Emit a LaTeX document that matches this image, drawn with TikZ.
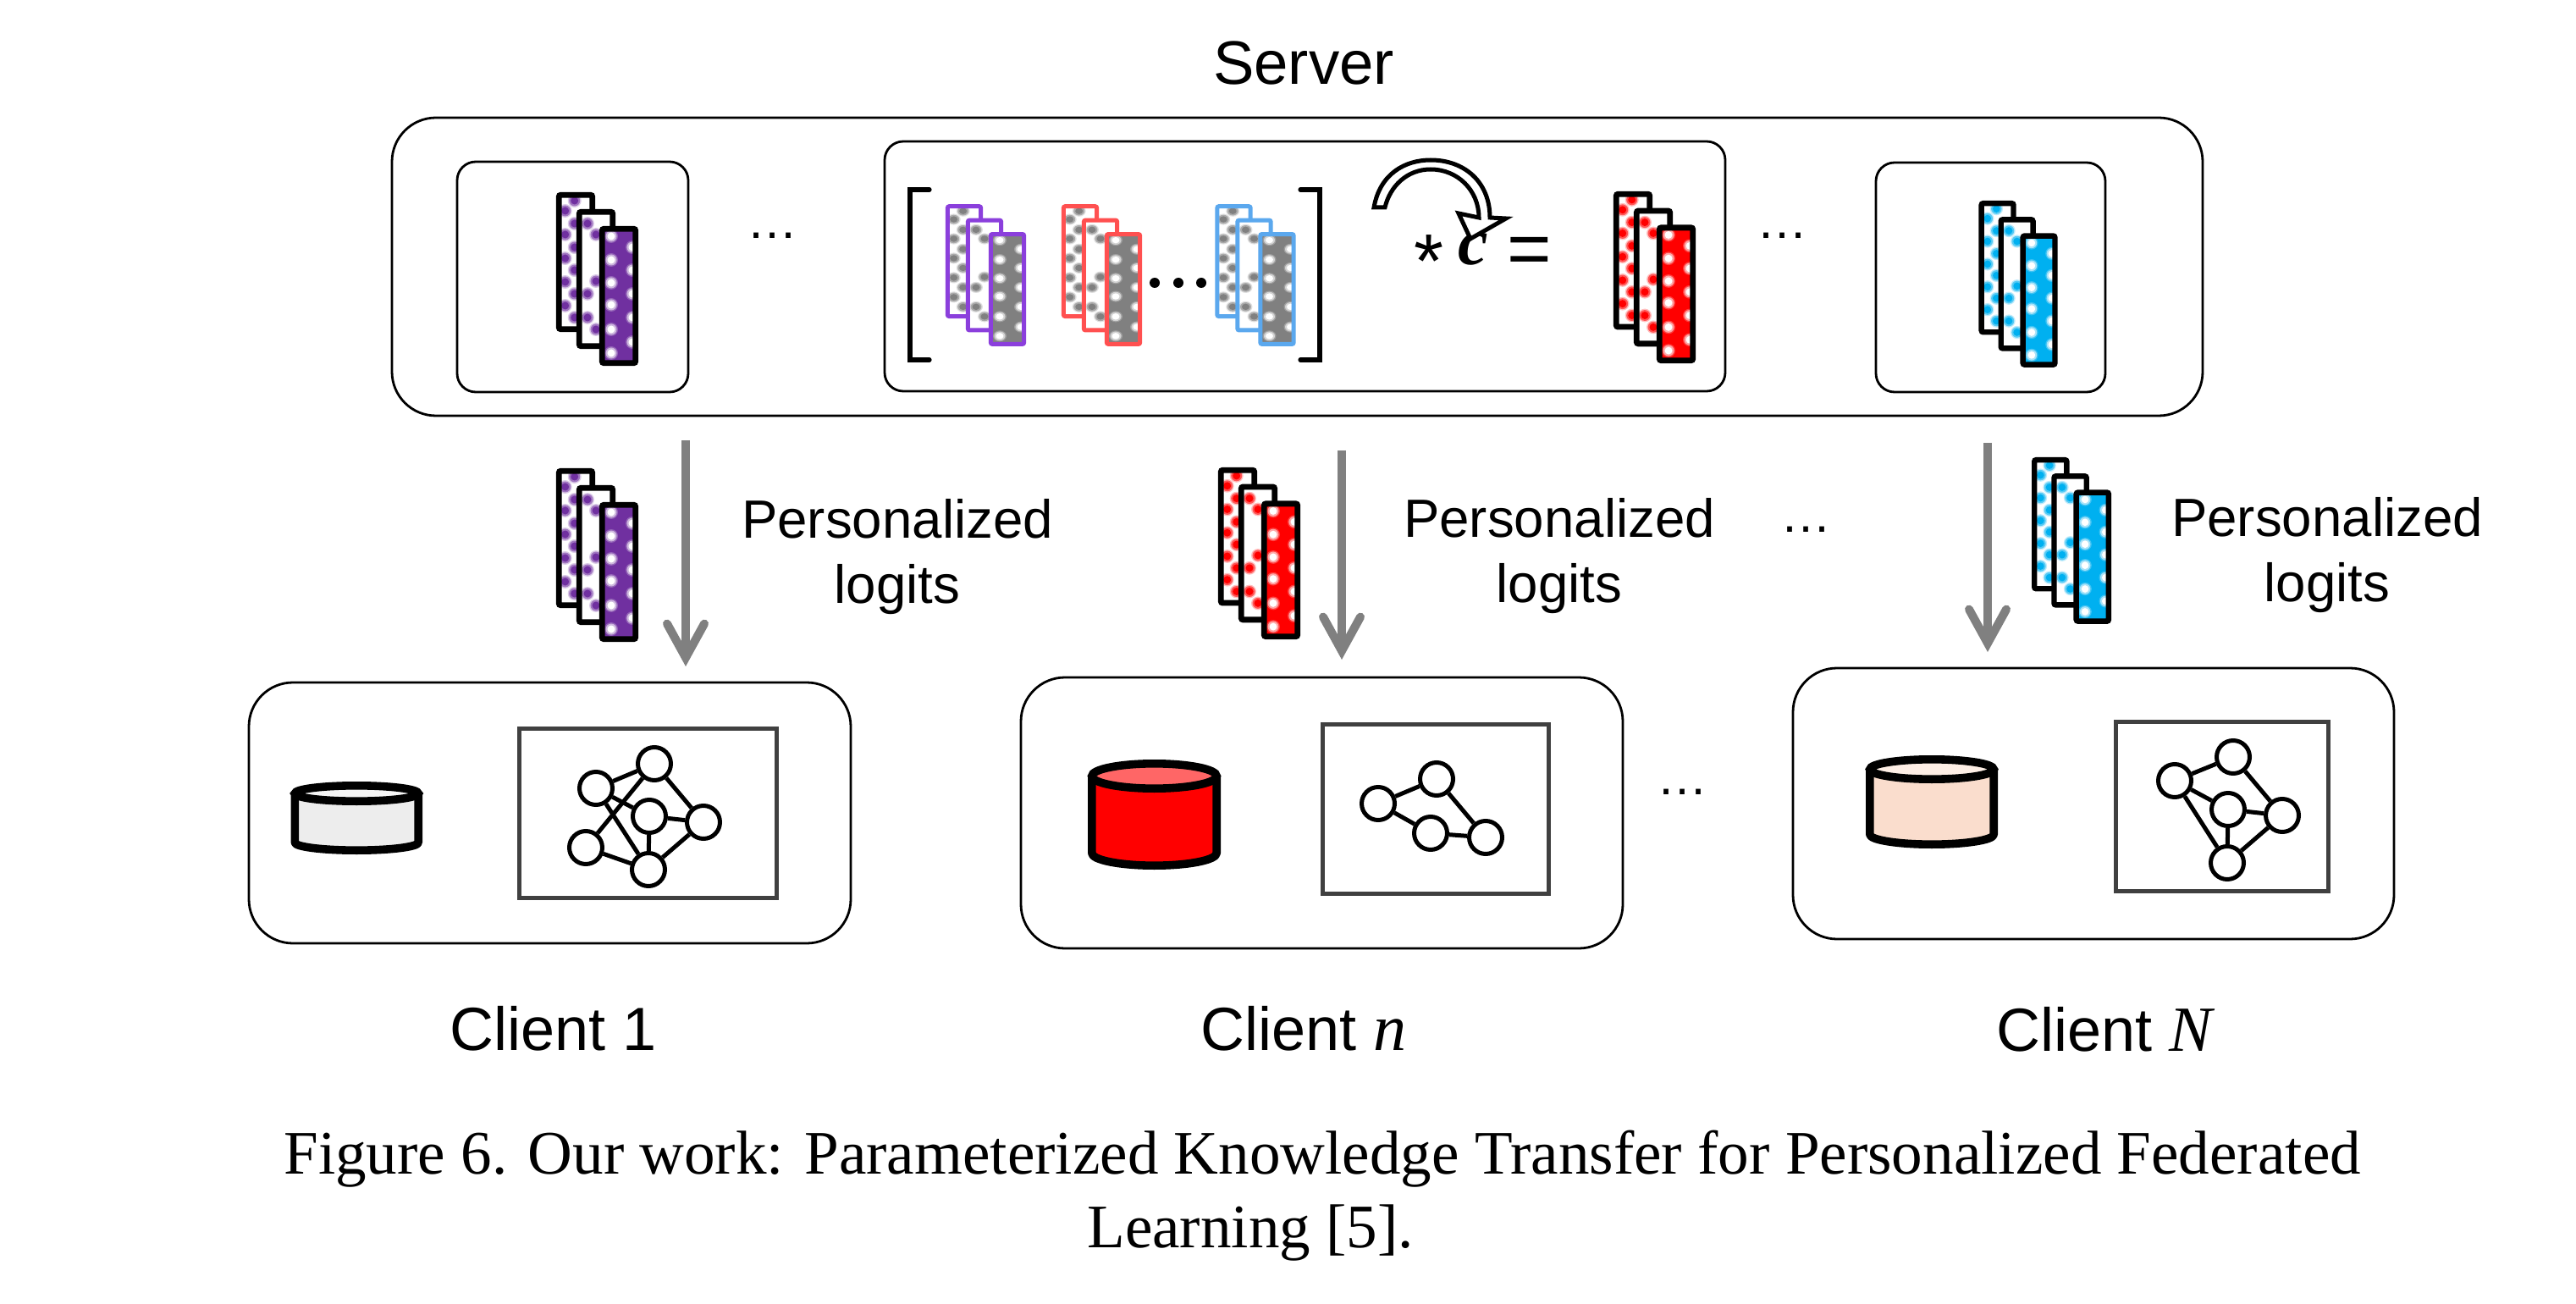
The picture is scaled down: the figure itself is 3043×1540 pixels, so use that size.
\documentclass[tikz,border=0pt]{standalone}
\usepackage{fontspec}
\setmainfont{Liberation Sans}
\newfontfamily\capfont{Liberation Serif}
\usetikzlibrary{arrows.meta}
\definecolor{darkpurple}{HTML}{7030A0}
\definecolor{lightpurple}{HTML}{8B3FDC}
\definecolor{lightred}{HTML}{FF5050}
\definecolor{lightblue}{HTML}{5BA8EE}
\definecolor{skyblue}{HTML}{00B0F0}
\definecolor{midgray}{HTML}{808080}
\definecolor{boxgray}{HTML}{404040}
\definecolor{peach}{HTML}{FADDCD}
\definecolor{peachtop}{HTML}{FDEEE5}
\definecolor{redtop}{HTML}{FF6666}
\definecolor{graybody}{HTML}{EDEDED}
\definecolor{graytop}{HTML}{F5F5F5}
\tikzset{
  roundbox/.style={draw=black,line width=1.4pt,rounded corners=11pt,inner sep=0pt,fill=white},
  bigbox/.style={roundbox,rounded corners=26pt},
  modelbox/.style={draw=boxgray,line width=2.5pt,inner sep=0pt,minimum height=100pt},
  unit/.style={circle,draw=black,fill=white,line width=2.5pt,inner sep=0pt,minimum size=19.5pt},
  link/.style={draw=black,line width=2.5pt},
  flow/.style={draw=midgray,line width=5pt,-{Straight Barb[length=20pt,width=22pt,line width=5pt,line cap=round]}},
  label/.style={inner sep=0pt,anchor=base,font=\fontsize{31.8pt}{36pt}\selectfont},
  clientlabel/.style={inner sep=0pt,anchor=base west,font=\fontsize{36pt}{40pt}\selectfont},
  gaplabel/.style={inner sep=0pt,anchor=base,font=\fontsize{30pt}{34pt}\selectfont},
  caption/.style={inner sep=0pt,anchor=base west,font=\capfont\fontsize{36.55pt}{42pt}\selectfont},
}
% soft checker dot: x y colour
\newcommand{\softdot}[3]{%
  \fill[#3,opacity=.25] (#1,#2) circle (8);
  \fill[#3,opacity=.55] (#1,#2) circle (6.5);
  \fill[#3] (#1,#2) circle (4.5);}
% x y xscale yscale linewidth border dotcolour
\newcommand{\stackicon}[7]{%
\begin{scope}[shift={(#1,#2)},xscale=#3,yscale=#4,line width=#5,rounded corners=1pt]
  \fill[white] (3.3,3.3) rectangle (42.7,161.7);
  \begin{scope}
    \clip (3.3,3.3) rectangle (42.7,161.7);
    \foreach \yy in {22,50,78,106,134} {\softdot{10.7}{\yy}{#7}}
    \foreach \yy in {10,37,65,92,120,148} {\softdot{21.7}{\yy}{#7}}
  \end{scope}
  \draw[#6] (3.3,3.3) rectangle (42.7,161.7);
  \fill[white] (27.3,23.3) rectangle (66.7,181.7);
  \begin{scope}
    \clip (27.3,23.3) rectangle (66.7,181.7);
    \foreach \xx/\yy in {37/37,47/50,47/105,37/120,37/148,47/162} {\softdot{\xx}{\yy}{#7}}
  \end{scope}
  \draw[#6] (27.3,23.3) rectangle (66.7,181.7);
  \fill[#7] (54.3,43.3) rectangle (93.7,201.7);
  \begin{scope}
    \clip (54.3,43.3) rectangle (93.7,201.7);
    \foreach \yy in {52,80,107,133,162,190} {\softdot{65}{\yy}{white}}
    \foreach \yy in {65,92,120,148,177} {\softdot{90}{\yy}{white}}
  \end{scope}
  \draw[#6] (54.3,43.3) rectangle (93.7,201.7);
\end{scope}}
% xl xr ytop ybottom yrim body top
\newcommand{\drum}[7]{%
  \pgfmathsetmacro\cxl{#1+4.8}
  \pgfmathsetmacro\cxr{#2-4.8}
  \pgfmathsetmacro\cry{(#5-#3)/2-4.8}
  \pgfmathsetmacro\cyc{(#3+#5)/2}
  \pgfmathsetmacro\cyb{#4-4.8-\cry}
  \pgfmathsetmacro\cyz{#4-4.8}
  \pgfmathsetmacro\cmx{(#1+#2)/2}
  \pgfmathsetmacro\crx{(#2-#1)/2-4.8}
  \pgfmathsetmacro\ckx{\crx*0.5523}
  \pgfmathsetmacro\cky{\cry*0.5523}
  \draw[line width=4.8pt,fill=#6,line join=round]
    (\cxl,\cyc) -- (\cxl,\cyb) .. controls (\cxl,\cyb+\cky) and (\cmx-\ckx,\cyz) .. (\cmx,\cyz)
    .. controls (\cmx+\ckx,\cyz) and (\cxr,\cyb+\cky) .. (\cxr,\cyb) -- (\cxr,\cyc);
  \draw[line width=4.8pt,fill=#7] (\cmx,\cyc) ellipse [x radius=\crx,y radius=\cry];}
\begin{document}
\begin{tikzpicture}[x=0.5pt,y=-0.5pt]
\useasboundingbox (0,0) rectangle (3043,1540);
\fill[white] (0,0) rectangle (3043,1540);

\node[inner sep=0pt,anchor=base,font=\fontsize{36.3pt}{40pt}\selectfont] (servertitle) at (1540,100) {Server};
\node[bigbox,minimum width=1069.5pt,minimum height=176pt] (server) at (1532.5,315) {};
\node[roundbox,minimum width=136.5pt,minimum height=136pt] (boxa) at (676.5,327) {};
\node[roundbox,minimum width=496.5pt,minimum height=147.5pt] (boxb) at (1541.5,314.5) {};
\node[roundbox,minimum width=135.5pt,minimum height=135.5pt] (boxc) at (2351.5,327.5) {};

\stackicon{657}{227}{1}{1}{3.4pt}{black}{darkpurple}
\stackicon{2337.5}{237}{.96}{.96}{3.2pt}{black}{skyblue}
\stackicon{1906}{226}{1}{.99}{3.4pt}{black}{red}
\stackicon{1116}{241}{1}{.82}{2.5pt}{lightpurple}{midgray}
\stackicon{1253}{241}{1}{.82}{2.5pt}{lightred}{midgray}
\stackicon{1434.5}{241}{1}{.82}{2.5pt}{lightblue}{midgray}

\draw[line width=2.6pt,line cap=round] (1098,224) -- (1075,224) -- (1075,425) -- (1098,425);
\draw[line width=2.6pt,line cap=round] (1536,224) -- (1559,224) -- (1559,425) -- (1536,425);
\fill (1364,334) circle (6);
\fill (1392,334) circle (6);
\fill (1419,334) circle (6);

\node[gaplabel] (gapa) at (912,282) {…};
\node[gaplabel] (gapb) at (2105,282) {…};
\node[gaplabel] (gapc) at (2133,628) {…};
\node[gaplabel] (gapd) at (1987,938) {…};

\node[inner sep=0pt,anchor=base,font=\fontsize{45pt}{50pt}\selectfont] (star) at (1688,340) {*};
\node[inner sep=0pt,anchor=base,font=\capfont\bfseries\itshape\fontsize{40pt}{44pt}\selectfont] (coef) at (1740,313) {c};
\node[inner sep=0pt,anchor=base,font=\fontsize{45pt}{50pt}\selectfont] (equal) at (1807,325) {=};
\draw[line width=2.5pt,fill=white,line join=miter]
  (1623,245) .. controls (1630,205) and (1660,189) .. (1690,189)
  .. controls (1730,189) and (1760,215) .. (1760,257)
  -- (1779,258) -- (1737,282) -- (1723,252) -- (1747,257)
  .. controls (1747,225) and (1722,200) .. (1690,200)
  .. controls (1662,200) and (1642,220) .. (1636,245) -- cycle;

% flows
\coordinate (f1s) at (810,520); \coordinate (f1e) at (810,787);
\coordinate (f2s) at (1585,532); \coordinate (f2e) at (1585,779);
\coordinate (f3s) at (2348,523); \coordinate (f3e) at (2348,770);
\draw[flow] (f1s) -- (f1e);
\draw[flow] (f2s) -- (f2e);
\draw[flow] (f3s) -- (f3e);

\stackicon{657}{553}{1}{1}{3.4pt}{black}{darkpurple}
\stackicon{1439}{552}{1}{.99}{3.4pt}{black}{red}
\stackicon{2400}{540}{.97}{.96}{3.2pt}{black}{skyblue}

\node[label] (pa) at (1060,635) {Personalized};
\node[label] (la) at (1060,712) {logits};
\node[label] (pb) at (1842,634) {Personalized};
\node[label] (lb) at (1842,711) {logits};
\node[label] (pc) at (2749,633) {Personalized};
\node[label] (lc) at (2749,710) {logits};

% clients
\node[bigbox,minimum width=355.5pt,minimum height=154pt] (clienta) at (649.5,960) {};
\node[bigbox,minimum width=355.5pt,minimum height=160pt] (clientb) at (1561.5,960) {};
\node[bigbox,minimum width=355pt,minimum height=160pt] (clientc) at (2473,949) {};

\drum{343.5}{499}{923}{1009}{951}{graybody}{graytop}
\drum{1285}{1442}{897}{1027}{936}{red}{redtop}
\drum{2204}{2360}{892}{1002}{925}{peach}{peachtop}

\node[modelbox,minimum width=152pt] (ma) at (765,960) {};
\node[modelbox,minimum width=133.5pt] (mb) at (1696,955) {};
\node[modelbox,minimum width=125.25pt] (mc) at (2625,952.5) {};

\node[unit] (a1) at (704,931) {};
\node[unit] (a2) at (773,902) {};
\node[unit] (a3) at (767,964) {};
\node[unit] (a4) at (831,971) {};
\node[unit] (a5) at (692,1001) {};
\node[unit] (a6) at (766,1027) {};
\foreach \p/\q in {a1/a2,a1/a3,a1/a6,a2/a4,a2/a5,a3/a4,a3/a6,a4/a6,a5/a6} {\draw[link] (\p) -- (\q);}

\node[unit] (b1) at (1628,949) {};
\node[unit] (b2) at (1697,920) {};
\node[unit] (b3) at (1690,984) {};
\node[unit] (b4) at (1755,989) {};
\foreach \p/\q in {b1/b2,b1/b3,b2/b4,b3/b4} {\draw[link] (\p) -- (\q);}

\node[unit] (c1) at (2569,922) {};
\node[unit] (c2) at (2638,894) {};
\node[unit] (c3) at (2632,956) {};
\node[unit] (c4) at (2696,963) {};
\node[unit] (c5) at (2631,1019) {};
\foreach \p/\q in {c1/c2,c1/c3,c1/c5,c2/c4,c3/c4,c3/c5,c4/c5} {\draw[link] (\p) -- (\q);}

\node[clientlabel] (na) at (531,1240) {Client 1};
\node[clientlabel] (nb) at (1418,1240) {Client {\capfont\itshape\fontsize{39pt}{40pt}\selectfont n}};
\node[clientlabel] (nc) at (2358,1241) {Client {\capfont\itshape\fontsize{38pt}{40pt}\selectfont N}};

\node[caption] (capa) at (335,1386) {Figure 6. Our work: Parameterized Knowledge Transfer for Personalized Federated};
\node[caption] (capb) at (1284,1473) {Learning [5].};
\end{tikzpicture}
\end{document}
